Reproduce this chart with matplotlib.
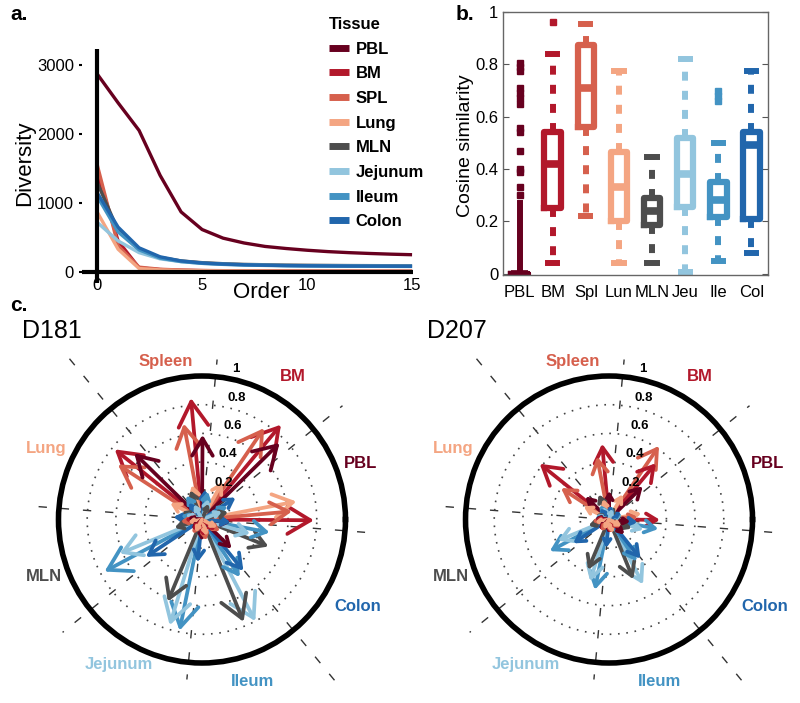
import matplotlib
matplotlib.use("Agg")
import matplotlib.pyplot as plt
from matplotlib.lines import Line2D
import numpy as np

plt.rcParams['font.family'] = ['Liberation Sans', 'DejaVu Sans']

tissues = ['PBL', 'BM', 'SPL', 'Lung', 'MLN', 'Jejunum', 'Ileum', 'Colon']
colors = ['#67001f', '#b2182b', '#d6604d', '#f4a582', '#4d4d4d', '#92c5de', '#4393c3', '#2166ac']

# ---- panel a: diversity profiles
order = list(range(16))
div_pbl = [2870, 2450, 2050, 1400, 870, 615, 490, 420, 370, 340, 315, 295, 280, 268, 258, 250]
div_bm = [1450, 450, 60, 35, 25, 20, 17, 15, 14, 13, 12, 11, 11, 10, 10, 10]
div_spl = [1560, 380, 70, 40, 28, 22, 19, 17, 15, 14, 13, 12, 12, 11, 11, 11]
div_lung = [870, 330, 50, 30, 22, 18, 15, 14, 13, 12, 11, 11, 10, 10, 10, 10]
div_mln = [1300, 600, 330, 210, 160, 135, 120, 110, 105, 100, 97, 95, 93, 92, 91, 90]
div_jej = [720, 450, 280, 190, 150, 125, 112, 104, 98, 94, 91, 89, 87, 86, 85, 84]
div_ile = [1100, 580, 320, 200, 150, 125, 110, 100, 95, 90, 87, 85, 83, 82, 81, 80]
div_col = [1150, 650, 350, 220, 160, 130, 115, 105, 98, 93, 90, 88, 86, 85, 84, 83]
diversity = [div_pbl, div_bm, div_spl, div_lung, div_mln, div_jej, div_ile, div_col]

# ---- panel b: cosine similarity boxes
box_labels = ['PBL', 'BM', 'Spl', 'Lun', 'MLN', 'Jeu', 'Ile', 'Col']
q1 = [0.0, 0.25, 0.56, 0.20, 0.185, 0.255, 0.215, 0.21]
med = [0.0, 0.42, 0.71, 0.33, 0.24, 0.38, 0.28, 0.49]
q3 = [0.0, 0.54, 0.875, 0.465, 0.29, 0.52, 0.35, 0.54]
whislo = [0.0, 0.04, 0.22, 0.04, 0.04, 0.005, 0.05, 0.08]
whishi = [0.27, 0.84, 0.955, 0.775, 0.445, 0.82, 0.50, 0.775]
fliers = [[0.30, 0.33, 0.39, 0.40, 0.47, 0.54, 0.555, 0.65, 0.67, 0.69, 0.71, 0.775, 0.79, 0.805],
          [0.96], [], [], [], [], [0.66, 0.68, 0.70], []]

# ---- panel c: compass plots (row = sector k, column = tissue colour j)
sector_base = [-6, 44.6, 89.6, 135.6, 174.5, 225, 269.7, 315.5]
slot_step = 5.6
sim_d181 = [
    [0.20, 0.78, 0.63, 0.67, 0.19, 0.15, 0.20, 0.28],
    [0.76, 0.86, 0.77, 0.30, 0.12, 0.15, 0.20, 0.21],
    [0.59, 0.85, 0.68, 0.25, 0.22, 0.12, 0.20, 0.15],
    [0.66, 0.78, 0.70, 0.25, 0.15, 0.12, 0.15, 0.20],
    [0.10, 0.12, 0.15, 0.10, 0.20, 0.62, 0.77, 0.47],
    [0.10, 0.10, 0.12, 0.10, 0.62, 0.77, 0.79, 0.30],
    [0.15, 0.12, 0.15, 0.12, 0.77, 0.80, 0.48, 0.46],
    [0.29, 0.12, 0.15, 0.12, 0.50, 0.35, 0.48, 0.20],
]
sim_d207 = [
    [0.15, 0.355, 0.20, 0.23, 0.10, 0.10, 0.10, 0.10],
    [0.33, 0.51, 0.62, 0.20, 0.10, 0.08, 0.10, 0.10],
    [0.20, 0.53, 0.446, 0.15, 0.19, 0.10, 0.12, 0.10],
    [0.23, 0.62, 0.40, 0.20, 0.10, 0.10, 0.10, 0.10],
    [0.10, 0.10, 0.12, 0.10, 0.15, 0.385, 0.468, 0.30],
    [0.10, 0.10, 0.10, 0.08, 0.38, 0.45, 0.50, 0.20],
    [0.10, 0.10, 0.10, 0.10, 0.45, 0.51, 0.35, 0.35],
    [0.15, 0.10, 0.10, 0.10, 0.17, 0.25, 0.35, 0.20],
]
sector_lines = [-4.5, 39, 84.6, 129.5, 175.5, 219, 264.6, 309.5]
sector_line_len = [1.14, 1.26, 1.12, 1.47, 1.19, 1.25, 1.12, 1.51]
compass_names = ['PBL', 'BM', 'Spleen', 'Lung', 'MLN', 'Jejunum', 'Ileum', 'Colon']
name_angle = [19.6, 57.7, 103, 155.6, 199.7, 240, 287.4, 330.8]
name_r = [1.17, 1.18, 1.13, 1.19, 1.17, 1.165, 1.18, 1.245]
rings = [0.2, 0.4, 0.6, 0.8, 1.0]
ring_labels = ['0.2', '0.4', '0.6', '0.8', '1']

fig = plt.figure(figsize=(8, 7.03), dpi=100)

# ================= a
axA = fig.add_axes([0.103, 0.5974, 0.4134, 0.3329])
for i in range(8):
    z = 3 if i == 0 else 2
    axA.plot(order, diversity[i], color=colors[i], lw=2.4, zorder=z, solid_capstyle='butt')
axA.set_xlim(-0.7, 15.05)
axA.set_ylim(-160, 3230)
axA.axhline(0, color='black', lw=3, zorder=4)
axA.axvline(0, color='black', lw=3, zorder=4)
for s in ['top', 'right']:
    axA.spines[s].set_visible(False)
for s in ['left', 'bottom']:
    axA.spines[s].set_color('none')
axA.set_xticks([0, 5, 10, 15])
axA.set_yticks([0, 1000, 2000, 3000])
axA.tick_params(axis='y', labelsize=12, length=2, width=1.5, pad=4)
axA.tick_params(axis='x', labelsize=12, length=0, pad=-3.5)
axA.set_xlabel('Order', fontsize=16)
axA.xaxis.set_label_coords(0.54, 0.005)
axA.set_ylabel('Diversity', fontsize=16)
axA.yaxis.set_label_coords(-0.176, 0.51)
axA.yaxis.label.set_va('center')

handles = [Line2D([], [], color=c, lw=5, solid_capstyle='butt') for c in colors]
leg = axA.legend(handles, tissues, title='Tissue', loc='upper left',
                 bbox_to_anchor=(329 / 800, 1 - 17 / 703), bbox_transform=fig.transFigure,
                 frameon=False, prop={'weight': 'bold', 'size': 12},
                 title_fontproperties={'weight': 'bold', 'size': 12},
                 handlelength=1.2, handletextpad=0.4, labelspacing=0.58,
                 alignment='left', borderpad=0, borderaxespad=0)

# ================= b
axB = fig.add_axes([503 / 800, 1 - 275 / 703, 265 / 800, 263 / 703])
for i in range(8):
    c = colors[i]
    st = dict(whislo=whislo[i], q1=q1[i], med=med[i], q3=q3[i], whishi=whishi[i], fliers=fliers[i])
    wls = '-' if i == 0 else (0, (1.5, 1.7))
    cw = 0.0 if i == 0 else 0.28
    axB.bxp([st], positions=[i + 1], widths=0.5, capwidths=cw, showfliers=True,
            boxprops=dict(color=c, lw=4.5),
            medianprops=dict(color=c, lw=5.5, solid_capstyle='butt'),
            whiskerprops=dict(color=c, lw=4.3, linestyle=wls, dash_capstyle='butt'),
            capprops=dict(color=c, lw=4.3),
            flierprops=dict(marker='s', markersize=5, markerfacecolor=c, markeredgecolor=c))
axB.set_xlim(0.5, 8.5)
axB.set_ylim(-0.005, 1.0)
axB.set_xticks(range(1, 9))
axB.set_xticklabels(box_labels)
axB.set_yticks([0, 0.2, 0.4, 0.6, 0.8, 1.0])
axB.set_yticklabels(['0', '0.2', '0.4', '0.6', '0.8', '1'])
axB.tick_params(axis='x', length=0, labelsize=12, pad=7)
axB.tick_params(axis='y', labelsize=12, direction='in', length=4, right=True, color='#555')
for s in axB.spines.values():
    s.set_color('#666')
    s.set_linewidth(1)
axB.set_ylabel('Cosine similarity', fontsize=14)
axB.yaxis.set_label_coords(-0.14, 0.49)
axB.yaxis.label.set_va('center')

# ================= c
def compass(rect, sims, title, tx):
    ax = fig.add_axes(rect, projection='polar')
    ax.set_ylim(0, 1)
    ax.set_xticks([])
    ax.set_yticks([0.2, 0.4, 0.6, 0.8])
    ax.set_yticklabels([])
    ax.yaxis.grid(True, linestyle=(0, (1, 4)), color='#444', lw=1.2)
    ax.xaxis.grid(False)
    ax.spines['polar'].set_linewidth(4)
    ax.tick_params(length=0)
    for a, L in zip(sector_lines, sector_line_len):
        th = np.deg2rad(a)
        ax.plot([th, th], [0, L], color='#333', lw=1, linestyle=(0, (6, 10)), clip_on=False, zorder=1)
    arrows = []
    for k in range(8):
        for j in range(8):
            arrows.append((sims[k][j], np.deg2rad(sector_base[k] + j * slot_step), colors[j]))
    arrows.sort(key=lambda t: -t[0])
    for r, th, c in arrows:
        ax.annotate('', xy=(th, r), xytext=(th, 0),
                    arrowprops=dict(arrowstyle='->,head_length=1.0,head_width=0.6',
                                    color=c, lw=2.7, shrinkA=0, shrinkB=0,
                                    mutation_scale=21 * r), zorder=3)
    for r, lab in zip(rings, ring_labels):
        ax.annotate(lab, xy=(np.deg2rad(80.9), r), xytext=(5.4, 6), textcoords='offset points',
                    ha='left', va='center', fontsize=9.5, fontweight='bold', zorder=5)
    for i in range(8):
        ax.text(np.deg2rad(name_angle[i]), name_r[i], compass_names[i], color=colors[i],
                fontsize=12, fontweight='bold', ha='center', va='center')
    fig.text(tx, 1 - 331 / 703, title, fontsize=18, ha='left', va='center')
    return ax

compass([0.0731, 0.0569, 0.35875, 0.40825], sim_d181, 'D181', 22 / 800)
compass([0.5819, 0.0569, 0.35875, 0.40825], sim_d207, 'D207', 427 / 800)

fig.text(10 / 800, 1 - 15 / 703, 'a.', fontsize=15, fontweight='bold', va='center')
fig.text(456 / 800, 1 - 15 / 703, 'b.', fontsize=15, fontweight='bold', va='center')
fig.text(10 / 800, 1 - 306 / 703, 'c.', fontsize=15, fontweight='bold', va='center')

fig.savefig('out.png', dpi=100)
